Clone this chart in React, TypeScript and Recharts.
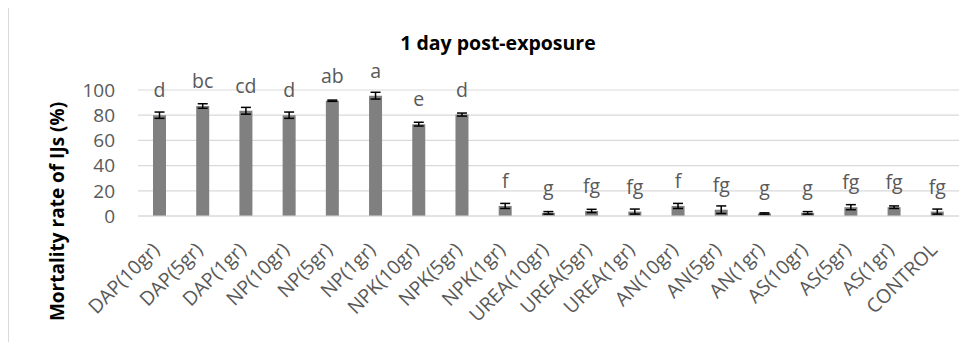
import React from 'react'
import { BarChart, Bar, XAxis, YAxis, CartesianGrid, ErrorBar, LabelList } from 'recharts'

const categories = [
  'DAP(10gr)', 'DAP(5gr)', 'DAP(1gr)', 'NP(10gr)', 'NP(5gr)', 'NP(1gr)',
  'NPK(10gr)', 'NPK(5gr)', 'NPK(1gr)', 'UREA(10gr)', 'UREA(5gr)', 'UREA(1gr)',
  'AN(10gr)', 'AN(5gr)', 'AN(1gr)', 'AS(10gr)', 'AS(5gr)', 'AS(1gr)', 'CONTROL',
]
const mortality = [80, 87.3, 83.5, 80, 91.5, 95.5, 72.9, 80.5, 8, 2.5, 4, 3.5, 8, 5, 2, 2.5, 7, 7, 3.5]
const stdErr = [2.5, 1.8, 2.7, 2.5, 0.5, 2.7, 1.5, 1.2, 2, 1, 1.3, 2, 2, 3, 0.5, 1, 2, 1, 2]
const letters = ['d', 'bc', 'cd', 'd', 'ab', 'a', 'e', 'd', 'f', 'g', 'fg', 'fg', 'f', 'fg', 'g', 'g', 'fg', 'fg', 'fg']
const yTicks = [0, 20, 40, 60, 80, 100]

const FONT = '"Open Sans", "Liberation Sans", sans-serif'
const TEXT_GREY = '#595959'
const W = 968
const H = 334

const data = categories.map((name, i) => ({
  name,
  value: mortality[i],
  err: stdErr[i],
  sig: letters[i],
}))

function CategoryTick(props: any) {
  const { x, y, payload } = props
  return (
    <text
      transform={`translate(${x + 1},${y + 35}) rotate(-45)`}
      textAnchor="end"
      fontSize={19.5}
      fontFamily={FONT}
      fill={TEXT_GREY}
    >
      {payload.value}
    </text>
  )
}

function SigLabel(props: any) {
  const { x, y, width, value } = props
  return (
    <text
      x={x + width / 2}
      y={y - 18}
      textAnchor="middle"
      fontSize={19.5}
      fontFamily={FONT}
      fill={TEXT_GREY}
    >
      {value}
    </text>
  )
}

export default function App() {
  return (
    <div style={{ position: 'relative', width: W, height: H }}>
      <style>{'html,body{overflow:hidden}'}</style>
      {/* chart frame, only top and left edges visible in the crop */}
      <div
        style={{
          position: 'absolute', left: 0, top: -1, width: W + 10, height: H + 10,
          borderTop: '1px solid #d9d9d9', borderLeft: '1px solid #d9d9d9',
        }}
      />
      <BarChart
        width={W}
        height={H}
        data={data}
        margin={{ top: 82, right: 17, left: 0, bottom: 0 }}
        barCategoryGap={0}
      >
        <CartesianGrid vertical={false} stroke="#d9d9d9" strokeWidth={1.2} />
        <XAxis
          dataKey="name"
          interval={0}
          height={126}
          tickLine={false}
          tickSize={0}
          tickMargin={0}
          axisLine={{ stroke: '#d9d9d9', strokeWidth: 1.2 }}
          tick={<CategoryTick />}
        />
        <YAxis
          width={130}
          domain={[0, 100]}
          ticks={yTicks}
          interval={0}
          axisLine={false}
          tickLine={false}
          tickSize={0}
          tickMargin={23}
          tick={{ fontSize: 19, fontFamily: FONT, fill: TEXT_GREY }}
        />
        <Bar dataKey="value" fill="#808080" barSize={13} isAnimationActive={false}>
          <ErrorBar dataKey="err" direction="y" width={5} stroke="#000" strokeWidth={1.5} isAnimationActive={false} />
          <LabelList dataKey="sig" content={<SigLabel />} />
        </Bar>
      </BarChart>
      <svg width={W} height={H} style={{ position: 'absolute', left: 0, top: 0, pointerEvents: 'none' }}>
        <text x={490} y={42} textAnchor="middle" fontSize={19.5} fontWeight="bold" fontFamily={FONT} fill="#000">
          1 day post-exposure
        </text>
        <text
          transform="translate(56,203.5) rotate(-90)"
          textAnchor="middle"
          fontSize={19}
          fontWeight="bold"
          fontFamily={FONT}
          fill="#000"
        >
          Mortality rate of IJs (%)
        </text>
      </svg>
    </div>
  )
}
